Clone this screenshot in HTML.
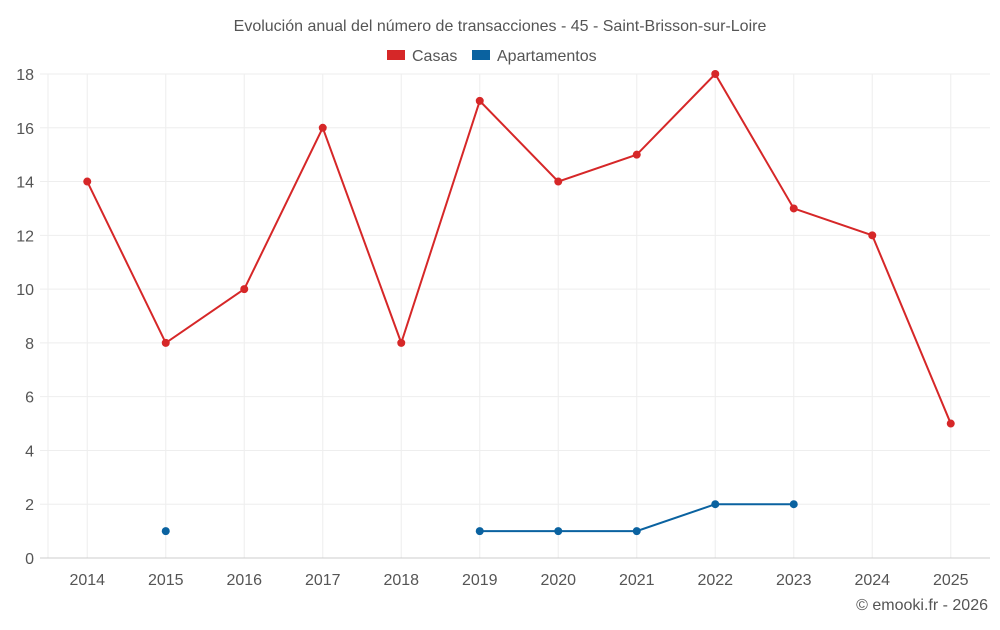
<!DOCTYPE html>
<html><head><meta charset="utf-8"><style>
body{margin:0;background:#fff;font-family:"Liberation Sans",sans-serif}
svg text{font-family:"Liberation Sans",sans-serif}
</style></head><body>
<svg id="chart" width="1000" height="625">
<text x="500" y="31" text-anchor="middle" font-size="16" fill="#555">Evolución anual del número de transacciones - 45 - Saint-Brisson-sur-Loire</text>
<g>
<g><rect x="387" y="50" width="18" height="10" fill="#d62728"/><text x="412" y="61" font-size="16" fill="#555">Casas</text></g>
<g><rect x="472" y="50" width="18" height="10" fill="#0a62a0"/><text x="497" y="61" font-size="16" fill="#555">Apartamentos</text></g>
</g>
<g id="grid"></g><g id="axes"></g><g id="series"></g>
<text x="988" y="610" text-anchor="end" font-size="16" fill="#555">© emooki.fr - 2026</text>
</svg>
<script>
const years=[2014,2015,2016,2017,2018,2019,2020,2021,2022,2023,2024,2025];
const casas=[14,8,10,16,8,17,14,15,18,13,12,5];
const apartamentos=[null,1,null,null,null,1,1,1,2,2,null,null];
const yTicks=[0,2,4,6,8,10,12,14,16,18];
const NS="http://www.w3.org/2000/svg";
const L=48,R=990,T=74,B=558,yMax=18;
const step=(R-L)/years.length;
const x=i=>L+step*(i+0.5);
const y=v=>B-(v/yMax)*(B-T);
function mk(tag,attrs,parent){const e=document.createElementNS(NS,tag);for(const k in attrs)e.setAttribute(k,attrs[k]);parent.appendChild(e);return e;}
const grid=document.getElementById('grid'),axes=document.getElementById('axes'),ser=document.getElementById('series');
const lEdge=mk('line',{x1:L,x2:L,y1:T,y2:B,stroke:'#eee'},grid);


years.forEach((yr,i)=>{const g=mk('line',{x1:x(i),x2:x(i),y1:T,y2:B,stroke:'#eee'},grid);
 
 });
yTicks.forEach(t=>{
 const l=mk('line',{x1:40,x2:R,y1:y(t),y2:y(t),stroke:t===0?'#ccc':'#eee'},grid);
 
 
 const tx=mk('text',{x:34,y:y(t)+6,'text-anchor':'end','font-size':16,fill:'#555'},axes);tx.textContent=t;
 
 
});
years.forEach((yr,i)=>{
 const tx=mk('text',{x:x(i),y:585,'text-anchor':'middle','font-size':16,fill:'#555'},axes);tx.textContent=yr;
 
 
});
function draw(data,color,name){
 let segs=[],cur=[];
 data.forEach((v,i)=>{if(v==null){if(cur.length)segs.push(cur);cur=[];}else cur.push([x(i),y(v)]);});
 if(cur.length)segs.push(cur);
 segs.forEach(s=>{if(s.length>1){const p=mk('polyline',{points:s.map(q=>q.join(',')).join(' '),fill:'none',stroke:color,'stroke-width':2},ser);
  
  }});
 data.forEach((v,i)=>{if(v==null)return;const c=mk('circle',{cx:x(i),cy:y(v),r:4,fill:color},ser);
  
  });
}
draw(casas,'#d62728','casas');
draw(apartamentos,'#0a62a0','apartamentos');
</script>
</body></html>
